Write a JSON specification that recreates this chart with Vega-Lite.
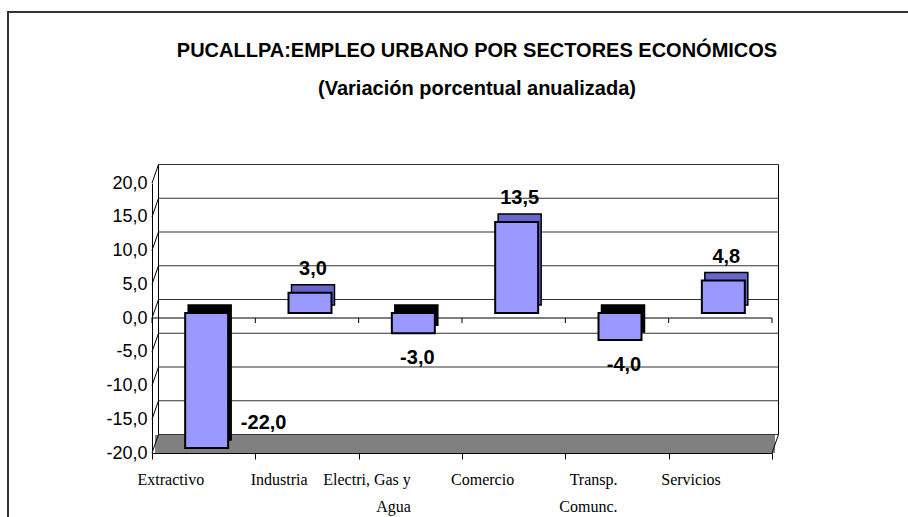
{
  "$schema": "https://vega.github.io/schema/vega-lite/v6.json",
  "width": 902,
  "height": 510,
  "autosize": {"type": "none"},
  "padding": {"left": 8, "top": 12, "right": 0, "bottom": 0},
  "background": "white",
  "title": {
    "text": "PUCALLPA:EMPLEO URBANO POR SECTORES ECONÓMICOS",
    "subtitle": "(Variación porcentual anualizada)",
    "anchor": "middle",
    "frame": "group",
    "offset": -87,
    "dx": 18,
    "font": "Liberation Sans",
    "fontSize": 20,
    "fontWeight": "bold",
    "color": "black",
    "subtitleFont": "Liberation Sans",
    "subtitleFontSize": 20,
    "subtitleFontWeight": "bold",
    "subtitleColor": "black",
    "subtitlePadding": 18
  },
  "config": {
    "view": {"stroke": "#333333", "strokeWidth": 2},
    "locale": {"number": {"decimal": ",", "thousands": ".", "grouping": [3], "currency": ["", "€"], "minus": "-"}}
  },
  "datasets": {
    "sectores": [
      {"sector": "Extractivo", "v": -22.0},
      {"sector": "Industria", "v": 3.0},
      {"sector": "Electri, Gas y Agua", "v": -3.0},
      {"sector": "Comercio", "v": 13.5},
      {"sector": "Transp. Comunc.", "v": -4.0},
      {"sector": "Servicios", "v": 4.8}
    ],
    "grid": [
      {"g": -20}, {"g": -15}, {"g": -10}, {"g": -5}, {"g": 0},
      {"g": 5}, {"g": 10}, {"g": 15}, {"g": 20}
    ],
    "one": [{}]
  },
  "layer": [
    {
      "layer": [
        {
          "data": {"name": "one"},
          "mark": {"type": "rect", "fill": "#808080", "xOffset": 3, "x2Offset": 3, "y2Offset": -18},
          "encoding": {
            "x": {"datum": 0, "type": "quantitative", "scale": {"domain": [0, 6], "range": [144, 764]}, "axis": null},
            "x2": {"datum": 6},
            "y": {"datum": -20, "type": "quantitative", "scale": {"domain": [-20, 20], "range": [441, 171], "nice": false, "clamp": true}, "title": null},
            "y2": {"datum": -20}
          }
        },
        {
          "data": {"name": "grid"},
          "mark": {"type": "rule", "color": "#333333", "strokeWidth": 1, "xOffset": 6.5, "x2Offset": 6.5, "yOffset": -18.5},
          "encoding": {
            "x": {"datum": 0, "type": "quantitative", "axis": null},
            "x2": {"datum": 6},
            "y": {"field": "g", "type": "quantitative", "title": null}
          }
        },
        {
          "data": {"name": "grid"},
          "mark": {"type": "rule", "color": "#000000", "strokeWidth": 1, "x2Offset": 6.5, "y2Offset": -18.5},
          "encoding": {
            "x": {"datum": 0, "type": "quantitative", "axis": null},
            "x2": {"datum": 0},
            "y": {"field": "g", "type": "quantitative", "title": null},
            "y2": {"field": "g"}
          }
        },
        {
          "data": {"name": "one"},
          "mark": {"type": "rule", "color": "#000000", "strokeWidth": 1, "xOffset": 6.5, "yOffset": -18.5, "y2Offset": -18.5},
          "encoding": {
            "x": {"datum": 0, "type": "quantitative", "axis": null},
            "y": {"datum": -20, "type": "quantitative", "title": null},
            "y2": {"datum": 20}
          }
        },
        {
          "data": {"name": "one"},
          "mark": {"type": "rule", "color": "#000000", "strokeWidth": 1, "xOffset": 6.5, "yOffset": -18.5, "y2Offset": -18.5},
          "encoding": {
            "x": {"datum": 6, "type": "quantitative", "axis": null},
            "y": {"datum": -20, "type": "quantitative", "title": null},
            "y2": {"datum": 20}
          }
        },
        {
          "data": {"name": "one"},
          "mark": {"type": "rule", "color": "#000000", "strokeWidth": 1, "x2Offset": 6.5, "y2Offset": -18.5},
          "encoding": {
            "x": {"datum": 6, "type": "quantitative", "axis": null},
            "x2": {"datum": 6},
            "y": {"datum": -20, "type": "quantitative", "title": null},
            "y2": {"datum": -20}
          }
        },
        {
          "data": {"name": "one"},
          "mark": {"type": "rule", "color": "#000000", "strokeWidth": 1.2},
          "encoding": {
            "x": {"datum": 0, "type": "quantitative", "axis": null},
            "x2": {"datum": 6},
            "y": {"datum": 0, "type": "quantitative", "title": null},
            "y2": {"datum": 0}
          }
        },
        {
          "data": {"name": "one"},
          "mark": {"type": "rule", "color": "#000000", "strokeWidth": 1, "y2Offset": 5},
          "encoding": {
            "x": {"datum": 6, "type": "quantitative", "axis": null},
            "y": {"datum": 0, "type": "quantitative", "title": null},
            "y2": {"datum": 0}
          }
        }
      ]
    },
    {
      "data": {"name": "sectores"},
      "layer": [
        {
          "mark": {"type": "rule", "color": "#000000", "strokeWidth": 1, "y2Offset": 5},
          "encoding": {
            "x": {"field": "sector", "type": "nominal", "bandPosition": 0, "sort": null},
            "y": {"datum": 0, "type": "quantitative", "title": null},
            "y2": {"datum": 0}
          }
        },
        {
          "mark": {"type": "bar", "width": {"band": 0.416}, "xOffset": 6, "yOffset": -13, "y2Offset": -13, "stroke": "#000000", "strokeWidth": 1.5},
          "encoding": {
            "x": {"field": "sector", "type": "nominal", "sort": null},
            "y": {"field": "v", "type": "quantitative", "title": null},
            "fill": {"condition": {"test": "datum.v < 0", "value": "#000000"}, "value": "#6666CC"}
          }
        },
        {
          "mark": {"type": "bar", "width": {"band": 0.416}, "xOffset": 3, "yOffset": -5, "y2Offset": -5, "fill": "#9999FF", "stroke": "#000000", "strokeWidth": 2},
          "encoding": {
            "x": {
              "field": "sector", "type": "nominal", "sort": null, "title": null,
              "scale": {"domain": ["Extractivo", "Industria", "Electri, Gas y Agua", "Comercio", "Transp. Comunc.", "Servicios"], "range": [144, 764], "paddingInner": 0, "paddingOuter": 0},
              "axis": {
                "orient": "bottom", "offset": -69, "labelAngle": 0, "tickBand": "extent", "tickSize": 6,
                "tickColor": "#000000", "domainColor": "#000000", "labelColor": "#000000",
                "labelFont": "Liberation Serif", "labelFontSize": 16, "labelPadding": 20, "labelLineHeight": 27,
                "labelExpr": "datum.label == 'Electri, Gas y Agua' ? ['Electri, Gas y', 'Agua'] : datum.label == 'Transp. Comunc.' ? ['Transp.', 'Comunc.'] : datum.label"
              }
            },
            "y": {
              "field": "v", "type": "quantitative", "title": null,
              "axis": {
                "orient": "left", "offset": -144, "values": [-20, -15, -10, -5, 0, 5, 10, 15, 20], "format": ".1f",
                "grid": false, "tickSize": 0, "labelPadding": 5, "domainColor": "#000000", "labelColor": "#000000",
                "labelFont": "Liberation Sans", "labelFontSize": 18
              }
            }
          }
        },
        {
          "transform": [{"filter": "datum.v > 0"}],
          "mark": {"type": "text", "font": "Liberation Sans", "fontSize": 20, "fontWeight": "bold", "color": "#000000", "baseline": "alphabetic", "align": "center", "dx": 6, "dy": -23},
          "encoding": {
            "x": {"field": "sector", "type": "nominal", "sort": null},
            "y": {"field": "v", "type": "quantitative", "title": null},
            "text": {"field": "v", "type": "quantitative", "format": ".1f"}
          }
        },
        {
          "transform": [{"filter": "datum.v < 0 && datum.v >= -20"}],
          "mark": {"type": "text", "font": "Liberation Sans", "fontSize": 20, "fontWeight": "bold", "color": "#000000", "baseline": "alphabetic", "align": "center", "dx": 7, "dy": 26},
          "encoding": {
            "x": {"field": "sector", "type": "nominal", "sort": null},
            "y": {"field": "v", "type": "quantitative", "title": null},
            "text": {"field": "v", "type": "quantitative", "format": ".1f"}
          }
        },
        {
          "transform": [{"filter": "datum.v < -20"}],
          "mark": {"type": "text", "font": "Liberation Sans", "fontSize": 20, "fontWeight": "bold", "color": "#000000", "baseline": "alphabetic", "align": "center", "dx": 60, "dy": -24},
          "encoding": {
            "x": {"field": "sector", "type": "nominal", "sort": null},
            "y": {"field": "v", "type": "quantitative", "title": null},
            "text": {"field": "v", "type": "quantitative", "format": ".1f"}
          }
        }
      ]
    }
  ],
  "resolve": {"scale": {"x": "independent"}}
}
